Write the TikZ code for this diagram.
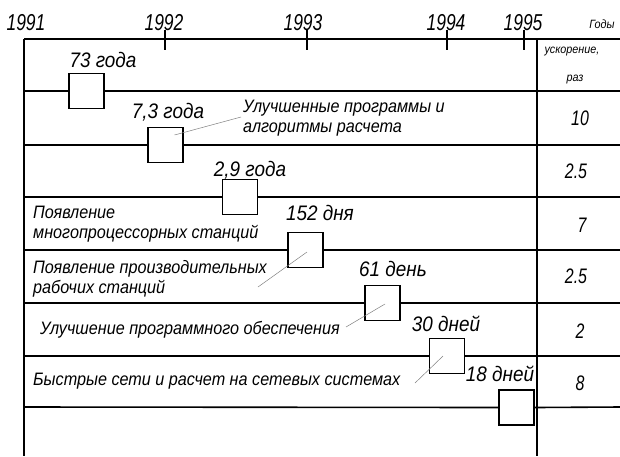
\documentclass[tikz,border=0pt]{standalone}
\usepackage{fontspec}
\usetikzlibrary{calc}
\setmainfont{Liberation Sans}[FakeStretch=0.9]
\newfontfamily\numf{Liberation Sans}[FakeStretch=0.76]
\begin{document}
\begin{tikzpicture}[x=1pt,y=-1pt,
  frame/.style={line width=1.6pt},
  evbox/.style={draw, line width=1.6pt, minimum size=35pt, inner sep=0pt, fill=white},
  leader/.style={gray, line width=0.5pt},
  lbl/.style={inner sep=0pt, font=\itshape\fontsize{21}{24}\selectfont},
  desc/.style={inner sep=0pt, anchor=west, align=left, font=\itshape\fontsize{18}{20}\selectfont},
  yearlbl/.style={inner sep=0pt, font=\numf\itshape\fontsize{23}{26}\selectfont},
  val/.style={inner sep=0pt, font=\numf\itshape\fontsize{21}{24}\selectfont},
  smalltxt/.style={inner sep=0pt, font=\itshape\fontsize{12}{14}\selectfont}]
\useasboundingbox (0,0) rectangle (620,456);
\fill[white] (0,0) rectangle (620,456);
% frame coordinates
\coordinate (TL) at (24,39);
\coordinate (TR) at (620,39);
\coordinate (BL) at (24,456);
\coordinate (VT) at (537,39);
\coordinate (VB) at (537,456);
\foreach \k/\y in {1/91,2/145,3/197,4/250,5/303,6/356,7/407}{
  \coordinate (L\k) at (24,\y);
  \coordinate (R\k) at (620,\y);
}
% boxes
\node[evbox] (b1) at (86.5,91) {};
\node[evbox] (b2) at (165.5,145) {};
\node[evbox] (b3) at (240,197) {};
\node[evbox] (b4) at (305.5,250) {};
\node[evbox] (b5) at (382.5,303) {};
\node[evbox] (b6) at (447,356) {};
\node[evbox] (b7) at (516.5,407.5) {};
% frame
\draw[frame] (TL) -- (TR);
\draw[frame] (TL) -- (BL);
\draw[frame] (VT) -- (VB);
\foreach \k in {1,...,7}{
  \draw[frame] (L\k) -- (b\k.west);
  \draw[frame] (b\k.east) -- (R\k);
}
% ticks
\foreach \n/\x in {2/165,3/307,4/447,5/524}{
  \coordinate (ta\n) at (\x,30);
  \coordinate (tb\n) at (\x,50);
  \draw[frame] (ta\n) -- (tb\n);
}
% years
\node[yearlbl] (y1) at (26,23) {1991};
\node[yearlbl] (y2) at (164,23) {1992};
\node[yearlbl] (y3) at (303,23) {1993};
\node[yearlbl] (y4) at (446,23) {1994};
\node[yearlbl] (y5) at (523,23) {1995};
\node[smalltxt] (gody) at (602,24) {Годы};
% right column
\node[smalltxt] (usk) at (572,52) {ускорение,};
\node[smalltxt] (raz) at (575,80) {раз};
\node[val] (v2) at (580,118) {10};
\node[val] (v3) at (576,171) {2.5};
\node[val] (v4) at (582,225) {7};
\node[val] (v5) at (576,276) {2.5};
\node[val] (v6) at (580,331) {2};
\node[val] (v7) at (580,383) {8};
% labels above boxes
\node[lbl] (l1) at (103,60) {73 года};
\node[lbl] (l2) at (168,112) {7,3 года};
\node[lbl] (l3) at (250,170) {2,9 года};
\node[lbl] (l4) at (320,213) {152 дня};
\node[lbl] (l5) at (393,269) {61 день};
\node[lbl] (l6) at (446,324) {30 дней};
\node[lbl] (l7) at (500,374) {18 дней};
% descriptions
\node[desc] (d2) at (243,118.5) {Улучшенные программы и\\алгоритмы расчета};
\node[desc] (d4) at (33,224.5) {Появление\\многопроцессорных станций};
\node[desc] (d5) at (33,278.5) {Появление производительных\\рабочих станций};
\node[desc] (d6) at (40,330) {Улучшение программного обеспечения};
\node[desc] (d7) at (33,381) {Быстрые сети и расчет на сетевых системах};
% leaders
\coordinate (e2) at (241,117);
\coordinate (e5) at (258,287);
\coordinate (e6) at (346,327);
\coordinate (e7) at (415,383);
\draw[leader] (e2) -- ($(b2.center)+(9,-10)$);
\draw[leader] (e5) -- ($(b4.center)+(1.5,2)$);
\draw[leader] (e6) -- ($(b5.center)+(2.5,1)$);
\draw[leader] (e7) -- ($(b6.center)+(-4,0)$);
\end{tikzpicture}
\end{document}
